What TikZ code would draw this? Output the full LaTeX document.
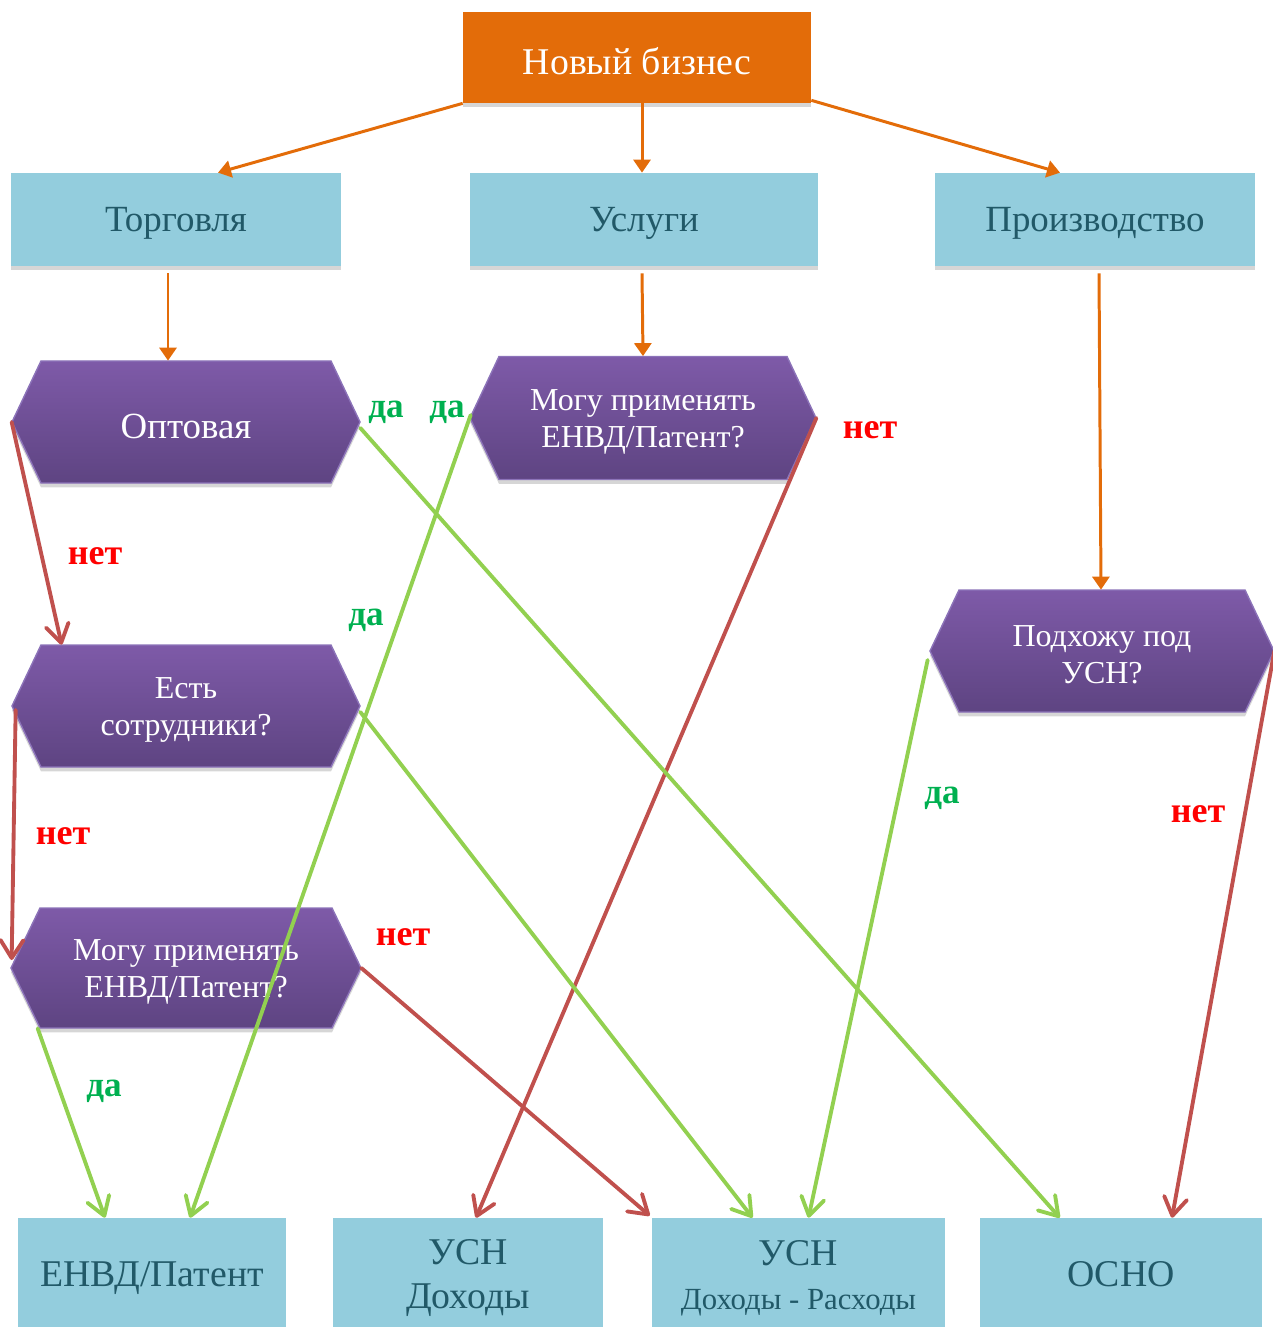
\documentclass[tikz,border=0pt]{standalone}
\usepackage{fontspec}
\setmainfont{Liberation Serif}
\usetikzlibrary{arrows.meta,calc,shadows}
\definecolor{orangebox}{RGB}{227,108,9}
\definecolor{bluebox}{RGB}{147,205,221}
\definecolor{bluetext}{RGB}{33,89,104}
\definecolor{purptop}{RGB}{126,90,168}
\definecolor{purpbot}{RGB}{94,68,130}
\definecolor{purpline}{RGB}{140,115,185}
\definecolor{redline}{RGB}{192,80,77}
\definecolor{greenline}{RGB}{146,208,80}
\definecolor{yesgreen}{RGB}{0,176,80}
\definecolor{nored}{RGB}{255,0,0}
\newcommand\dn[1]{\raisebox{-0.08cm}[\height][\depth]{#1}}
\newcommand\hexa[6]{% name, cx, cy, half width, half height, text
  \path[hexfill] (#2-#4,#3) -- (#2-#4+29,#3-#5) -- (#2+#4-29,#3-#5) -- (#2+#4,#3)
    -- (#2+#4-29,#3+#5) -- (#2-#4+29,#3+#5) -- cycle;
  \node[hextext, minimum width={2*#4*0.02cm}, minimum height={2*#5*0.02cm}] (#1) at (#2,#3) {#6};
}
\begin{document}
\begin{tikzpicture}[x=0.02cm,y=-0.02cm,
  softshadow/.style={drop shadow={shadow xshift=0pt, shadow yshift=-2.5pt, opacity=0.16, fill=black}},
  boxbase/.style={rectangle, inner sep=0pt, align=center, softshadow},
  topbox/.style={boxbase, fill=orangebox, text=white, font=\fontsize{21.5}{25}\selectfont},
  bluebox/.style={boxbase, fill=bluebox, text=bluetext, font=\fontsize{21}{24}\selectfont},
  hexfill/.style={top color=purptop, bottom color=purpbot, draw=purpline, line width=0.8pt, softshadow},
  hextext/.style={rectangle, inner sep=0pt, align=center, text=white, font=\fontsize{18.2}{21}\selectfont},
  orangearrow/.style={draw=orangebox, line width=1.7pt, -{Triangle[length=0.26cm,width=0.34cm]}},
  redarrow/.style={draw=redline, line width=2.2pt, line cap=round,
    -{Straight Barb[length=0.36cm,width=0.46cm,line width=2.2pt,round]}},
  greenarrow/.style={draw=greenline, line width=2.2pt, line cap=round,
    -{Straight Barb[length=0.36cm,width=0.46cm,line width=2.2pt,round]}},
  yes/.style={text=yesgreen, font=\fontsize{20}{22}\selectfont\bfseries, inner sep=0pt},
  no/.style={text=nored, font=\fontsize{20.5}{22}\selectfont\bfseries, inner sep=0pt}
]
\useasboundingbox (0,0) rectangle (1272,1327);

% top
\node[topbox, minimum width=6.96cm, minimum height=1.82cm] (new) at (637,57.5) {\dn{Новый бизнес}};
\node[bluebox, minimum width=6.6cm, minimum height=1.86cm] (trade) at (176,219.5) {\dn{Торговля}};
\node[bluebox, minimum width=6.96cm, minimum height=1.86cm] (serv) at (644,219.5) {\dn{Услуги}};
\node[bluebox, minimum width=6.4cm, minimum height=1.86cm] (prod) at (1095,219.5) {\dn{Производство}};

% hexagons
\hexa{opt}{186}{422}{174}{61}{\fontsize{21}{24}\selectfont\dn{Оптовая}}
\hexa{servq}{643}{418}{173}{61.5}{\dn{Могу применять}\\\dn{ЕНВД/Патент?}}
\hexa{emp}{186}{706}{174}{61}{\dn{Есть}\\\dn{сотрудники?}}
\hexa{envdq}{186}{968}{175}{60}{\dn{Могу применять}\\\dn{ЕНВД/Патент?}}
\hexa{usnq}{1102}{651}{172}{61}{\dn{Подхожу под}\\\dn{УСН?}}

% bottom boxes
\node[bluebox, minimum width=5.36cm, minimum height=2.24cm, font=\fontsize{21.5}{25}\selectfont] (envd) at (152,1274) {\dn{ЕНВД/Патент}};
\node[bluebox, minimum width=5.4cm, minimum height=2.24cm, font=\fontsize{21.5}{25}\selectfont] (usn1) at (468,1274) {\dn{УСН}\\\dn{Доходы}};
\node[bluebox, minimum width=5.86cm, minimum height=2.24cm, font=\fontsize{21.5}{25}\selectfont] (usn2) at (798.5,1274) {\dn{УСН}\\{\fontsize{17.5}{21}\selectfont\dn{Доходы - Расходы}}};
\node[bluebox, minimum width=5.64cm, minimum height=2.24cm, font=\fontsize{21.5}{25}\selectfont] (osno) at (1121,1274) {ОСНО};

% orange connectors
\draw[orangearrow] (new.south west) -- ($(trade.north)+(42,0)$);
\draw[orangearrow] ($(new.south)+(5,0)$) -- ($(serv.north)+(-2,0)$);
\draw[orangearrow] ($(new.south east)+(0,-3)$) -- ($(prod.north)+(-35,0)$);
\draw[orangearrow] ($(trade.south)+(-8,7)$) -- ($(opt.north)+(-18,0)$);
\draw[orangearrow] ($(serv.south)+(-2,7)$) -- (servq.north);
\draw[orangearrow] ($(prod.south)+(4,7)$) -- ($(usnq.north)+(-1,0)$);

% red connectors
\draw[redarrow] (opt.west) -- ($(emp.north west)+(50,0)$);
\draw[redarrow] ($(emp.west)+(4,4)$) -- ($(envdq.west)+(1,-8)$);
\draw[redarrow] (servq.east) -- ($(usn1.north)+(8,0)$);
\draw[redarrow] (envdq.east) -- ($(usn2.north west)+(-2,-2)$);
\draw[redarrow] (usnq.east) -- ($(osno.north)+(51,0)$);

% green connectors
\draw[greenarrow] ($(opt.east)+(0,6)$) -- ($(osno.north west)+(80,0)$);
\draw[greenarrow] ($(servq.west)+(1,-3)$) -- ($(envd.north)+(38,0)$);
\draw[greenarrow] ($(emp.east)+(0,6)$) -- ($(usn2.north)+(-46,0)$);
\draw[greenarrow] ($(envdq.south west)+(27,0)$) -- ($(envd.north)+(-47,0)$);
\draw[greenarrow] ($(usnq.west)+(-2,9)$) -- ($(usn2.north)+(10,0)$);

% labels
\node[yes] (y1) at (386,412) {да};
\node[yes] (y2) at (447,412) {да};
\node[yes] (y3) at (366,620) {да};
\node[yes] (y4) at (942,798) {да};
\node[yes] (y5) at (104,1091) {да};
\node[no] (n1) at (95,556) {нет};
\node[no] (n2) at (870,430) {нет};
\node[no] (n3) at (63,836) {нет};
\node[no] (n4) at (403,937) {нет};
\node[no] (n5) at (1198,814) {нет};
\end{tikzpicture}
\end{document}
